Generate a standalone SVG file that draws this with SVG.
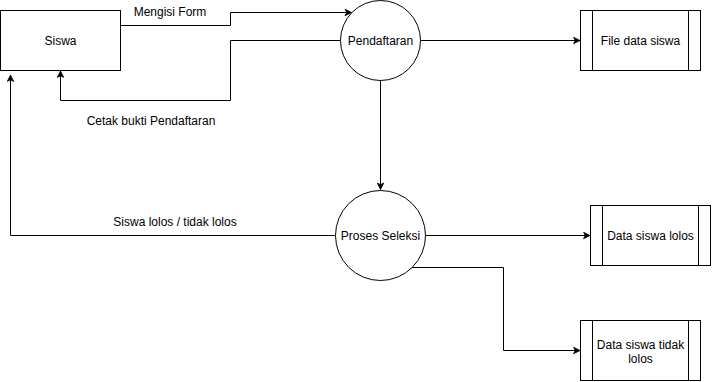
<svg xmlns="http://www.w3.org/2000/svg" width="712" height="382" viewBox="0 0 712 382">
  <style>
    .shape { fill: #ffffff; stroke: #000000; stroke-width: 1; }
    .edge { fill: none; stroke: #000000; stroke-width: 1; marker-end: url(#arrow); }
    .plain { fill: none; stroke: #000000; stroke-width: 1; }
    text { font-family: "Liberation Sans", Arial, sans-serif; font-size: 12px; fill: #000000; text-anchor: middle; }
  </style>
  <defs>
    <marker id="arrow" viewBox="0 0 10 10" refX="9" refY="5" markerWidth="8" markerHeight="8" markerUnits="userSpaceOnUse" orient="auto">
      <path d="M1,1 L9,5 L1,9 L3,5 Z" fill="#000000" stroke="#000000" stroke-width="1"/>
    </marker>
  </defs>
  <rect width="712" height="382" fill="#ffffff"/>

  <g id="connectors">
    <!-- Siswa -> Pendaftaran -->
    <polyline class="edge" points="120.5,25.5 230.5,25.5 230.5,12.5 351.5,12.5"/>
    <text x="170" y="16">Mengisi Form</text>
    <!-- Pendaftaran -> Siswa -->
    <polyline class="edge" points="340,40.5 230.5,40.5 230.5,100.5 60.5,100.5 60.5,71"/>
    <text x="151" y="125">Cetak bukti Pendaftaran</text>
    <!-- Pendaftaran -> File data siswa -->
    <line class="edge" x1="420.5" y1="40.5" x2="580" y2="40.5"/>
    <!-- Pendaftaran -> Proses Seleksi -->
    <line class="edge" x1="380.5" y1="80.5" x2="380.5" y2="189.5"/>
    <!-- Proses Seleksi -> Siswa -->
    <polyline class="edge" points="335,235.5 10.5,235.5 10.5,75"/>
    <text x="175" y="226">Siswa lolos / tidak lolos</text>
    <!-- Proses Seleksi -> Data siswa lolos -->
    <line class="edge" x1="425.5" y1="235.5" x2="590" y2="235.5"/>
    <!-- Proses Seleksi -> Data siswa tidak lolos -->
    <polyline class="edge" points="411,267.5 503.5,267.5 503.5,350.5 580,350.5"/>
  </g>

  <g id="siswa">
    <rect class="shape" x="0.5" y="10.5" width="120" height="60"/>
    <text x="60.5" y="44.5">Siswa</text>
  </g>

  <g id="pendaftaran">
    <circle class="shape" cx="380.5" cy="40.5" r="40"/>
    <text x="380.5" y="44.5">Pendaftaran</text>
  </g>

  <g id="proses-seleksi">
    <circle class="shape" cx="380.5" cy="235.5" r="45"/>
    <text x="380.5" y="239.5">Proses Seleksi</text>
  </g>

  <g id="file-data-siswa">
    <rect class="shape" x="580.5" y="10.5" width="120" height="60"/>
    <line class="plain" x1="592.5" y1="10.5" x2="592.5" y2="70.5"/>
    <line class="plain" x1="688.5" y1="10.5" x2="688.5" y2="70.5"/>
    <text x="640.5" y="44.5">File data siswa</text>
  </g>

  <g id="data-siswa-lolos">
    <rect class="shape" x="590.5" y="205.5" width="120" height="60"/>
    <line class="plain" x1="602.5" y1="205.5" x2="602.5" y2="265.5"/>
    <line class="plain" x1="698.5" y1="205.5" x2="698.5" y2="265.5"/>
    <text x="650.5" y="239.5">Data siswa lolos</text>
  </g>

  <g id="data-siswa-tidak-lolos">
    <rect class="shape" x="580.5" y="320.5" width="120" height="60"/>
    <line class="plain" x1="592.5" y1="320.5" x2="592.5" y2="380.5"/>
    <line class="plain" x1="688.5" y1="320.5" x2="688.5" y2="380.5"/>
    <text x="640.5" y="349">Data siswa tidak</text>
    <text x="640.5" y="363">lolos</text>
  </g>
</svg>
